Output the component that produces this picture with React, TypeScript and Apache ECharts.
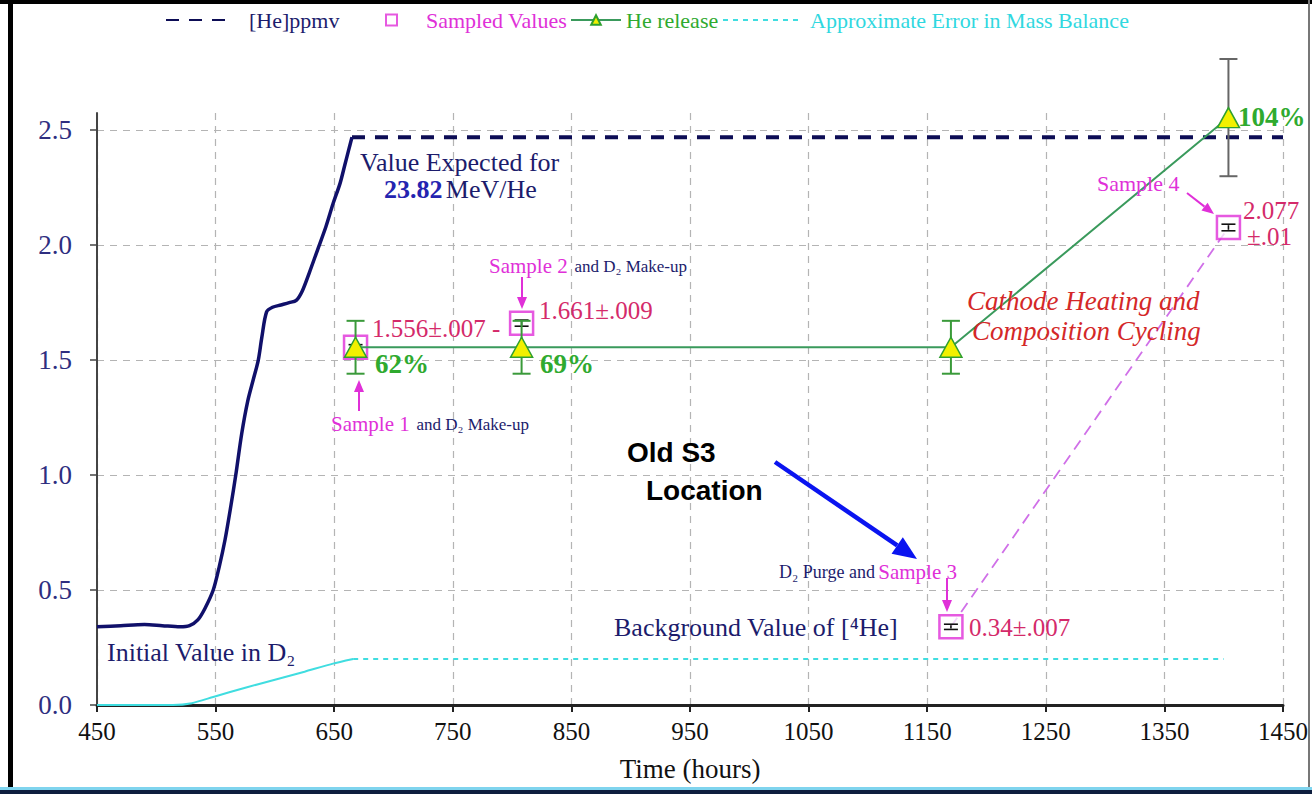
import React, { useEffect, useRef } from "react";
import * as echarts from "echarts";

// ---------- data ----------
const heCurveT = [450, 470, 490, 505, 520, 528, 535, 541, 548, 553, 558, 563, 567, 572, 577, 582, 586, 589, 593, 598, 605, 612, 618, 623, 629, 636, 643, 649, 655, 659, 662, 665];
const heCurveV = [0.34, 0.345, 0.35, 0.345, 0.34, 0.345, 0.37, 0.42, 0.5, 0.6, 0.72, 0.87, 1.0, 1.18, 1.32, 1.42, 1.5, 1.6, 1.71, 1.73, 1.74, 1.75, 1.76, 1.8, 1.88, 1.98, 2.08, 2.18, 2.27, 2.35, 2.41, 2.47];
const heExpectedT = [665, 1450];
const heExpectedV = [2.47, 2.47];

const errCurveT = [450, 514, 530, 548, 575, 600, 625, 649, 666];
const errCurveV = [0, 0, 0.008, 0.035, 0.075, 0.11, 0.145, 0.18, 0.2];
const errPlateauT = [666, 1400];
const errPlateauV = [0.2, 0.2];

const sampleT = [668, 808, 1170, 1404];
const sampleV = [1.556, 1.661, 0.34, 2.077];
const sampleErr = [0.007, 0.009, 0.007, 0.01];

const purgeT = [1170, 1404];
const purgeV = [0.34, 2.077];

const releaseT = [668, 808, 1170, 1404];
const releaseV = [1.556, 1.556, 1.556, 2.555];
const releaseErr = [0.115, 0.115, 0.115, 0.255];
const releaseErrColor = ["#3a9a3a", "#3a9a3a", "#3a9a3a", "#666666"];

const yTickValues = [0, 0.5, 1, 1.5, 2, 2.5];

// ---------- styles ----------
const SERIF = "'Liberation Serif', 'Times New Roman', serif";
const SANS = "'Liberation Sans', Arial, sans-serif";
const NAVY = "#1c1c6c";
const MAGENTA = "#e030d8";
const CRIMSON = "#d42a6a";
const GREEN_TXT = "#2faa2f";

function txt(x: number, y: number, text: string, style: any = {}) {
  return {
    type: "text",
    x,
    y,
    z: 100,
    style: {
      text,
      fontFamily: SERIF,
      fontSize: 26,
      fill: NAVY,
      textVerticalAlign: "middle",
      verticalAlign: "middle",
      ...style,
    },
  };
}

function arrow(x1: number, y1: number, tx: number, ty: number, color: string, width: number, headLen: number, headHalf: number) {
  const dx = tx - x1;
  const dy = ty - y1;
  const len = Math.sqrt(dx * dx + dy * dy);
  const ux = dx / len;
  const uy = dy / len;
  const bx = tx - ux * headLen;
  const by = ty - uy * headLen;
  const nx = -uy;
  const ny = ux;
  return [
    { type: "line", z: 100, shape: { x1, y1, x2: bx, y2: by }, style: { stroke: color, lineWidth: width } },
    {
      type: "polygon",
      z: 100,
      shape: { points: [[tx, ty], [bx + nx * headHalf, by + ny * headHalf], [bx - nx * headHalf, by - ny * headHalf]] },
      style: { fill: color },
    },
  ];
}

function errBarRenderer(colors: string[], halfW: number, lw: number) {
  return (params: any, api: any) => {
    const x = api.value(0);
    const lo = api.value(1);
    const hi = api.value(2);
    const top = api.coord([x, hi]);
    const bot = api.coord([x, lo]);
    const c = colors[params.dataIndex % colors.length];
    const st = { stroke: c, lineWidth: lw };
    return {
      type: "group",
      children: [
        { type: "line", shape: { x1: top[0], y1: top[1], x2: bot[0], y2: bot[1] }, style: st },
        { type: "line", shape: { x1: top[0] - halfW, y1: top[1], x2: top[0] + halfW, y2: top[1] }, style: st },
        { type: "line", shape: { x1: bot[0] - halfW, y1: bot[1], x2: bot[0] + halfW, y2: bot[1] }, style: st },
      ],
    };
  };
}

function sampleBarRenderer(params: any, api: any) {
  const x = api.value(0);
  const lo = api.value(1);
  const hi = api.value(2);
  const top = api.coord([x, hi]);
  const bot = api.coord([x, lo]);
  const st = { stroke: "#111", lineWidth: 1.6 };
  return {
    type: "group",
    children: [
      { type: "line", shape: { x1: top[0], y1: top[1], x2: bot[0], y2: bot[1] }, style: st },
      { type: "line", shape: { x1: top[0] - 7, y1: top[1] - 1, x2: top[0] + 7, y2: top[1] - 1 }, style: st },
      { type: "line", shape: { x1: bot[0] - 7, y1: bot[1] + 1, x2: bot[0] + 7, y2: bot[1] + 1 }, style: st },
    ],
  };
}

const zip = (a: number[], b: number[]) => a.map((v, i) => [v, b[i]]);

export default function App() {
  const ref = useRef<HTMLDivElement>(null);

  useEffect(() => {
    document.body.style.margin = "0";
    if (!ref.current) return;
    const chart = echarts.init(ref.current, null, { renderer: "svg" });

    const legendBase = {
      top: 9,
      padding: 0,
      itemHeight: 12,
      selectedMode: false,
      textStyle: { fontFamily: SERIF, fontSize: 22 },
    };

    const option: any = {
      animation: false,
      backgroundColor: "#ffffff",
      grid: { left: 97, right: 29, top: 113, bottom: 89, containLabel: false },
      legend: [
        {
          ...legendBase,
          left: 165,
          itemWidth: 60,
          data: [{ name: "[He]ppmv", itemStyle: { opacity: 0 }, textStyle: { color: NAVY, padding: [0, 0, 0, 18] } }],
        },
        {
          ...legendBase,
          left: 385,
          itemWidth: 11,
          itemHeight: 11,
          data: [{ name: "Sampled Values", icon: "rect", textStyle: { color: MAGENTA, padding: [0, 0, 0, 24] } }],
        },
        {
          ...legendBase,
          left: 570,
          itemWidth: 50,
          data: [{ name: "He release", textStyle: { color: GREEN_TXT } }],
        },
        {
          ...legendBase,
          left: 722,
          itemWidth: 80,
          data: [
            {
              name: "Approximate Error in Mass Balance",
              itemStyle: { opacity: 0 },
              textStyle: { color: "#30d8e0", padding: [0, 0, 0, 2] },
            },
          ],
        },
      ],
      xAxis: {
        type: "value",
        min: 450,
        max: 1450,
        interval: 100,
        name: "Time (hours)",
        nameLocation: "middle",
        nameGap: 50,
        nameTextStyle: { fontFamily: SERIF, fontSize: 27, color: "#111" },
        axisLine: { lineStyle: { color: "#222", width: 3 } },
        axisTick: { show: true, length: 7, lineStyle: { color: "#222", width: 2 } },
        axisLabel: { fontFamily: SERIF, fontSize: 25, color: "#111", margin: 14, formatter: (v: number) => String(v) },
        splitLine: { show: true, lineStyle: { color: "#b4b4b4", type: [7, 6], width: 1.2 } },
      },
      yAxis: {
        type: "value",
        min: 0,
        max: 2.575,
        axisLine: { show: true, lineStyle: { color: "#444", width: 2 } },
        axisTick: { show: true, length: 7, lineStyle: { color: "#444", width: 1.5 }, customValues: yTickValues },
        axisLabel: {
          fontFamily: SERIF,
          fontSize: 27,
          color: "#2e2e80",
          margin: 25,
          customValues: yTickValues,
          formatter: (v: number) => v.toFixed(1),
        },
        splitLine: { show: true, lineStyle: { color: "#b4b4b4", type: [7, 6], width: 1.2 } },
      },
      series: [
        {
          name: "[He]ppmv",
          type: "line",
          data: zip(heExpectedT, heExpectedV),
          symbol: "none",
          clip: false,
          z: 3,
          lineStyle: { color: "#0d0d55", width: 4, type: [13, 10] },
          itemStyle: { color: "#0d0d55" },
        },
        {
          name: "[He]ppmv curve",
          type: "line",
          data: zip(heCurveT, heCurveV),
          symbol: "none",
          smooth: 0.3,
          clip: false,
          z: 3,
          lineStyle: { color: "#10106a", width: 3.5 },
        },
        {
          name: "Approximate Error in Mass Balance",
          type: "line",
          data: zip(errPlateauT, errPlateauV),
          symbol: "none",
          z: 2,
          lineStyle: { color: "#40dde0", width: 2, type: [5, 5] },
          itemStyle: { color: "#40dde0" },
        },
        {
          name: "error curve",
          type: "line",
          data: zip(errCurveT, errCurveV),
          symbol: "none",
          smooth: 0.2,
          z: 2,
          lineStyle: { color: "#40dde0", width: 2 },
        },
        {
          name: "purge line",
          type: "line",
          data: zip(purgeT, purgeV),
          symbol: "none",
          z: 2,
          lineStyle: { color: "#d070e8", width: 1.8, type: [11, 7] },
        },
        {
          name: "Sampled Values",
          type: "scatter",
          data: zip(sampleT, sampleV),
          symbol: "rect",
          symbolSize: 23,
          clip: false,
          z: 4,
          itemStyle: { color: "rgba(255,255,255,0.9)", borderColor: MAGENTA, borderWidth: 2.5 },
        },
        {
          name: "sample errors",
          type: "custom",
          clip: false,
          z: 5,
          encode: { x: 0, y: [1, 2] },
          data: sampleT.map((t, i) => [t, sampleV[i] - sampleErr[i], sampleV[i] + sampleErr[i]]),
          renderItem: sampleBarRenderer,
        },
        {
          name: "release errors",
          type: "custom",
          clip: false,
          z: 6,
          encode: { x: 0, y: [1, 2] },
          data: releaseT.map((t, i) => [t, releaseV[i] - releaseErr[i], releaseV[i] + releaseErr[i]]),
          renderItem: errBarRenderer(releaseErrColor, 9, 2),
        },
        {
          name: "He release",
          type: "line",
          data: zip(releaseT, releaseV),
          symbol: "triangle",
          symbolSize: [22, 20],
          showSymbol: true,
          clip: false,
          z: 7,
          lineStyle: { color: "#3a9a5c", width: 2 },
          itemStyle: { color: "#f2f000", borderColor: "#2fa02f", borderWidth: 1.5 },
        },
      ],
      graphic: [
        // frame
        { type: "rect", z: 200, shape: { x: 0, y: 0, width: 1312, height: 4 }, style: { fill: "#000" } },
        { type: "rect", z: 200, shape: { x: 8, y: 0, width: 5, height: 794 }, style: { fill: "#000" } },
        { type: "rect", z: 200, shape: { x: 1308, y: 0, width: 2, height: 794 }, style: { fill: "#777" } },
        { type: "rect", z: 200, shape: { x: 0, y: 787, width: 1312, height: 3 }, style: { fill: "#7fd4ee" } },
        { type: "rect", z: 200, shape: { x: 0, y: 790, width: 1312, height: 4 }, style: { fill: "#0e1e3e" } },

        txt(360, 162, "Value Expected for"),
        {
          type: "text",
          x: 384,
          y: 189,
          z: 100,
          style: {
            text: "{b|23.82} {n|MeV/He}",
            verticalAlign: "middle",
            rich: {
              b: { fontFamily: SERIF, fontSize: 26, fontWeight: "bold", fill: "#2424b0", color: "#2424b0" },
              n: { fontFamily: SERIF, fontSize: 26, fill: NAVY, color: NAVY },
            },
          },
        },
        txt(107, 652, "Initial Value in D₂"),
        {
          type: "text",
          x: 489,
          y: 266,
          z: 100,
          style: {
            text: "{m|Sample 2}  {n|and D₂ Make-up}",
            verticalAlign: "middle",
            rich: {
              m: { fontFamily: SERIF, fontSize: 21, fill: MAGENTA, color: MAGENTA },
              n: { fontFamily: SERIF, fontSize: 17, fill: NAVY, color: NAVY },
            },
          },
        },
        {
          type: "text",
          x: 331,
          y: 424,
          z: 100,
          style: {
            text: "{m|Sample 1}  {n|and D₂ Make-up}",
            verticalAlign: "middle",
            rich: {
              m: { fontFamily: SERIF, fontSize: 21, fill: MAGENTA, color: MAGENTA },
              n: { fontFamily: SERIF, fontSize: 17, fill: NAVY, color: NAVY },
            },
          },
        },
        {
          type: "text",
          x: 779,
          y: 572,
          z: 100,
          style: {
            text: "{n|D₂ Purge and} {m|Sample 3}",
            verticalAlign: "middle",
            rich: {
              m: { fontFamily: SERIF, fontSize: 21, fill: MAGENTA, color: MAGENTA },
              n: { fontFamily: SERIF, fontSize: 18, fill: NAVY, color: NAVY },
            },
          },
        },
        txt(1097, 183, "Sample 4", { fontSize: 22, fill: MAGENTA }),

        txt(372, 328, "1.556±.007 -", { fontSize: 25, fill: CRIMSON }),
        txt(539, 310, "1.661±.009", { fontSize: 25, fill: CRIMSON }),
        txt(1243, 210, "2.077", { fontSize: 25, fill: CRIMSON }),
        txt(1247, 236, "±.01", { fontSize: 25, fill: CRIMSON }),
        txt(969, 627, "0.34±.007", { fontSize: 25, fill: CRIMSON }),

        txt(375, 364, "62%", { fontSize: 27, fontWeight: "bold", fill: GREEN_TXT }),
        txt(540, 364, "69%", { fontSize: 27, fontWeight: "bold", fill: GREEN_TXT }),
        txt(1238, 117, "104%", { fontSize: 27, fontWeight: "bold", fill: GREEN_TXT }),

        txt(967, 301, "Cathode Heating and", { fontSize: 27, fontStyle: "italic", fill: "#d42828" }),
        txt(972, 331, "Composition Cycling", { fontSize: 27, fontStyle: "italic", fill: "#d42828" }),

        txt(614, 627, "Background Value of [⁴He]", { fontSize: 26 }),

        txt(627, 452, "Old S3", { fontFamily: SANS, fontSize: 28, fontWeight: "bold", fill: "#000" }),
        txt(646, 490, "Location", { fontFamily: SANS, fontSize: 28, fontWeight: "bold", fill: "#000" }),

        ...arrow(775, 462, 917, 559, "#0a14f0", 4.5, 24, 10),
        ...arrow(522, 277, 522, 309, MAGENTA, 2, 12, 5),
        ...arrow(359, 411, 359, 380, MAGENTA, 2, 12, 5),
        ...arrow(947, 578, 947, 612, MAGENTA, 2, 12, 5),
        ...arrow(1187, 193, 1214, 214, MAGENTA, 2, 12, 5),
      ],
    };

    chart.setOption(option);
    return () => chart.dispose();
  }, []);

  return <div ref={ref} style={{ width: 1312, height: 794 }} />;
}
